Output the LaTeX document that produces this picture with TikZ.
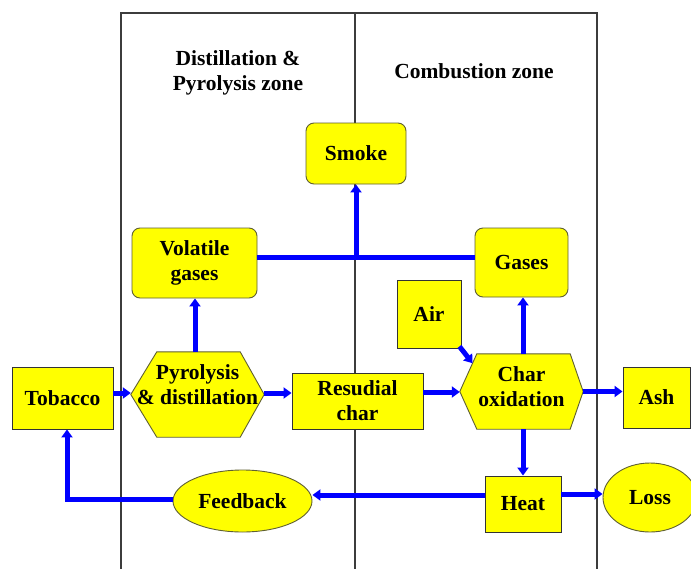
\documentclass[tikz,border=0pt]{standalone}
\usepackage{fontspec}
\setmainfont{Liberation Serif}
\usetikzlibrary{arrows.meta,backgrounds,calc,shapes.geometric}
\definecolor{yel}{RGB}{255,255,0}
\definecolor{blu}{RGB}{0,0,255}
\definecolor{edgec}{RGB}{95,95,50}
\definecolor{zonec}{RGB}{60,60,60}
\begin{document}
\begin{tikzpicture}[x=1pt,y=-1pt,
  every node/.style={font=\fontsize{21.5}{25}\selectfont\bfseries, align=center, inner sep=0pt},
  rectbox/.style={draw=black!80, fill=yel, line width=0.9pt},
  roundbox/.style={draw=edgec, fill=yel, line width=0.9pt, rounded corners=8pt},
  ellbox/.style={ellipse, draw=edgec, fill=yel, line width=0.9pt},
  hexbox/.style={},
  hexdraw/.style={draw=edgec, fill=yel, line width=0.9pt},
  zoneline/.style={draw=zonec, line width=1.1pt},
  conn/.style={draw=blu, line width=5pt},
  arr/.style={conn, -{Triangle[width=11pt,length=8pt]}}]
\useasboundingbox (0,0) rectangle (691,568);

% nodes
\node[rectbox, minimum width=101, minimum height=62] (tobacco) at (62.5,398) {Tobacco};
\node[hexbox, minimum width=133, minimum height=85, text depth=19pt] (pyro) at (197.5,394.5) {Pyrolysis\\\& distillation};
\node[roundbox, minimum width=125, minimum height=70] (vol) at (194.5,263) {Volatile\\gases};
\node[roundbox, minimum width=100, minimum height=61] (smoke) at (356,153.5) {Smoke};
\node[roundbox, minimum width=93, minimum height=69] (gases) at (521.5,262.5) {Gases};
\node[rectbox, minimum width=64, minimum height=68] (air) at (429,314) {Air};
\node[rectbox, minimum width=131, minimum height=56] (resid) at (357.5,401) {Resudial\\char};
\node[hexbox, minimum width=123, minimum height=75, text depth=9pt] (char) at (521.5,391.5) {Char\\oxidation};
\node[rectbox, minimum width=67, minimum height=61] (ash) at (656.5,397.5) {Ash};
\node[rectbox, minimum width=76, minimum height=56] (heat) at (523,504) {Heat};
\node[ellbox, minimum width=94, minimum height=69] (loss) at (650,497.5) {Loss};
\node[ellbox, minimum width=139, minimum height=62] (feedback) at (242.5,501) {Feedback};
\node (zl) at (238,73) {Distillation \&\\Pyrolysis zone};
\node (zr) at (474,71) {Combustion zone};

% background: white, zone frame, hexagons
\begin{scope}[on background layer]
  \fill[white] (0,0) rectangle (691,568);
  \coordinate (ztl) at (121,13);
  \coordinate (ztm) at (355,13);
  \coordinate (ztr) at (597,13);
  \coordinate (zbl) at (121,570);
  \coordinate (zbm) at (355,570);
  \coordinate (zbr) at (597,570);
  \draw[zoneline] (zbl) -- (ztl) -- (ztr) -- (zbr);
  \draw[zoneline] (ztm) -- (zbm);
  \draw[hexdraw] ([xshift=26pt]pyro.north west) -- ([xshift=-24pt]pyro.north east) -- (pyro.east)
     -- ([xshift=-24pt]pyro.south east) -- ([xshift=26pt]pyro.south west) -- (pyro.west) -- cycle;
  \draw[hexdraw] ([xshift=17pt]char.north west) -- ([xshift=-13pt]char.north east) -- (char.east)
     -- ([xshift=-13pt]char.south east) -- ([xshift=17pt]char.south west) -- (char.west) -- cycle;
\end{scope}

% helper coordinates for connector rows / columns
\coordinate (jy) at (0,257);
\coordinate (r393) at (0,393);
\coordinate (r392) at (0,392);
\coordinate (r494) at (0,494);
\coordinate (r495) at (0,495);
\coordinate (r499) at (0,499);
\coordinate (c195) at (195,0);
\coordinate (c523) at (523,0);
\coordinate (c67) at (67,0);
\coordinate (airtip) at ($([xshift=17pt]char.north west)!0.25!(char.west)$);

% connectors
\draw[conn] (vol.east |- jy) -- (gases.west |- jy);
\draw[arr] (smoke.south |- jy) -- (smoke.south);
\draw[arr] (pyro.north -| c195) -- (vol.south -| c195);
\draw[arr] (tobacco.east |- r393) -- (pyro.west |- r393);
\draw[arr] (pyro.east |- r393) -- (resid.west |- r393);
\draw[arr] (resid.east |- r392) -- (char.west |- r392);
\draw[arr] (char.east) -- (ash.west |- char.east);
\draw[arr] (char.north -| c523) -- (gases.south -| c523);
\draw[arr] (char.south -| c523) -- (heat.north -| c523);
\draw[arr] ([shift={(-2pt,2pt)}]air.south east) -- (airtip);
\draw[arr] (heat.east |- r494) -- (loss.west |- r494);
\draw[arr] (heat.west |- r495) -- (feedback.east |- r495);
\draw[arr] (feedback.west |- r499) -| (tobacco.south -| c67);
\end{tikzpicture}
\end{document}
